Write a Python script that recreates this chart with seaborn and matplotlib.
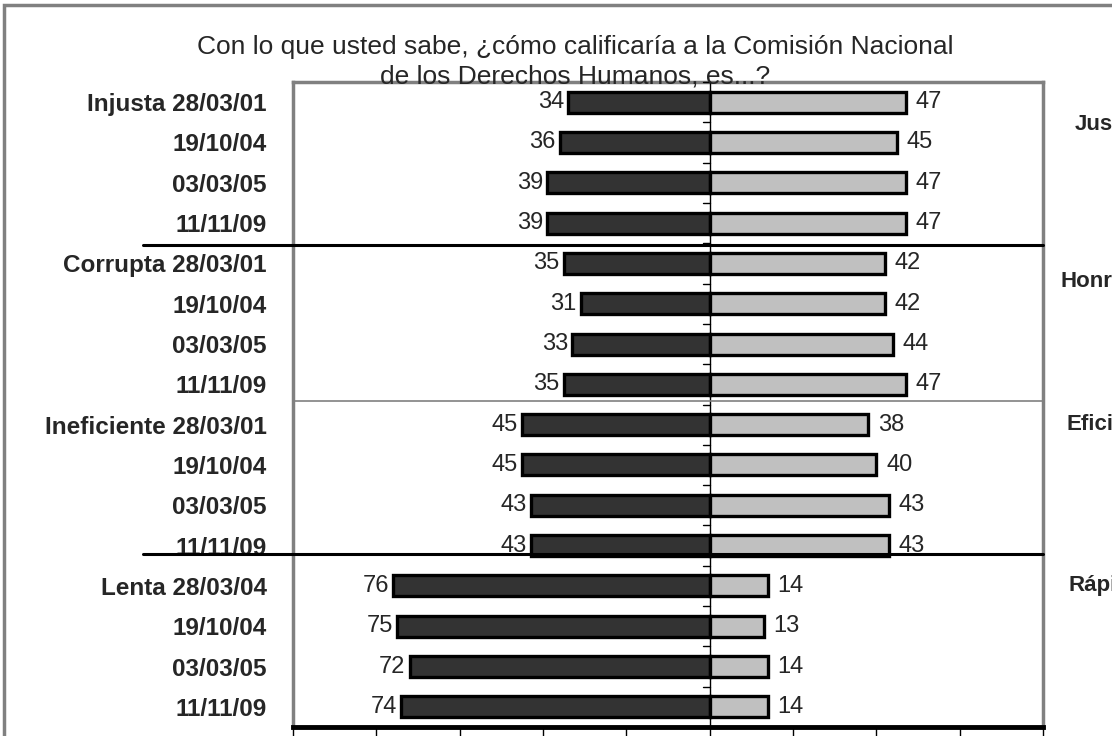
import numpy as np
import pandas as pd
import seaborn as sns
import matplotlib
matplotlib.use("Agg")
import matplotlib.pyplot as plt
from matplotlib.patches import Rectangle
from matplotlib.transforms import blended_transform_factory

# ---------------- data ----------------
row_labels = [
    "Injusta 28/03/01", "19/10/04", "03/03/05", "11/11/09",
    "Corrupta 28/03/01", "19/10/04", "03/03/05", "11/11/09",
    "Ineficiente 28/03/01", "19/10/04", "03/03/05", "11/11/09",
    "Lenta 28/03/04", "19/10/04", "03/03/05", "11/11/09",
]
negative_vals = [34, 36, 39, 39, 35, 31, 33, 35, 45, 45, 43, 43, 76, 75, 72, 74]
positive_vals = [47, 45, 47, 47, 42, 42, 44, 47, 38, 40, 43, 43, 14, 13, 14, 14]
right_labels = ["Justa", "Honrada", "Eficiente", "Rápida"]
title = "Con lo que usted sabe, ¿cómo calificaría a la Comisión Nacional\nde los Derechos Humanos, es...?"
x_ticks = [-100, -80, -60, -40, -20, 0, 20, 40, 60, 80]

row_ids = [f"r{i}" for i in range(len(row_labels))]
df = pd.DataFrame({"row": row_ids,
                   "neg": [-v for v in negative_vals],
                   "pos": positive_vals})

# ---------------- style ----------------
sns.set_style("white")
plt.rcParams["font.family"] = ["Liberation Sans", "DejaVu Sans"]

W, H = 1112, 736
fig = plt.figure(figsize=(W / 100, H / 100), dpi=100)
ax = fig.add_axes([293 / W, 1 - 727 / H, (1043 - 293) / W, (727 - 82) / H])

sns.barplot(data=df, y="row", x="neg", order=row_ids, orient="h",
            color="#333333", saturation=1, width=0.52,
            edgecolor="black", linewidth=2.4, ax=ax)
sns.barplot(data=df, y="row", x="pos", order=row_ids, orient="h",
            color="#C0C0C0", saturation=1, width=0.52,
            edgecolor="black", linewidth=2.4, ax=ax)

ax.set_xlim(-100, 80)
ax.set_ylim(15.5, -0.5)
ax.set_xlabel("")
ax.set_ylabel("")

# value labels
ax.bar_label(ax.containers[0], labels=[str(v) for v in negative_vals],
             padding=3, fontsize=17)
ax.bar_label(ax.containers[1], labels=[str(v) for v in positive_vals],
             padding=7, fontsize=17)

# y labels
ax.set_yticks(range(len(row_labels)))
ax.set_yticklabels(row_labels, fontsize=17.5, fontweight="bold")
ax.tick_params(axis="y", length=0, pad=19)

# x ticks (labels cut off in the reference)
ax.set_xticks(x_ticks)
ax.tick_params(axis="x", direction="out", length=9, width=1, color="black",
               labelbottom=False, bottom=True)

# spines
for s in ["top", "left", "right"]:
    ax.spines[s].set_color("#808080")
    ax.spines[s].set_linewidth(2.5)
ax.spines["bottom"].set_color("black")
ax.spines["bottom"].set_linewidth(3.5)

# center axis with small ticks at row boundaries
ax.axvline(0, color="black", lw=1, zorder=5)
for b in np.arange(-0.5, 16, 1.0):
    ax.plot([-1.6, 0], [b, b], color="black", lw=1, zorder=5, clip_on=False)

# group separators
tr = blended_transform_factory(ax.transAxes, ax.transData)
ax.plot([-0.2, 1.0], [3.55, 3.55], color="black", lw=2.2, transform=tr, clip_on=False, zorder=6)
ax.plot([0.0, 1.0], [7.42, 7.42], color="#808080", lw=1.2, transform=tr, clip_on=False, zorder=6)
ax.plot([-0.2, 1.0], [11.22, 11.22], color="black", lw=2.2, transform=tr, clip_on=False, zorder=6)

# right-side category labels (running past the figure edge, as in the reference)
rtr = blended_transform_factory(fig.transFigure, ax.transData)
for lab, xpx, yrow in zip(right_labels, [1075, 1060, 1067, 1068], [0.55, 4.45, 8.0, 12.0]):
    ax.annotate(lab, xy=(xpx / W, yrow), xycoords=rtr,
                ha="left", va="center", fontsize=16, fontweight="bold",
                annotation_clip=False)

# title
fig.text(575 / W, 1 - 62 / H, title, ha="center", va="center", fontsize=19,
         linespacing=1.3)

# figure frame (partially out of view)
fig.patches.append(Rectangle((4 / W, -0.2), 1.5, 1.2 - 5 / H, transform=fig.transFigure,
                             fill=False, edgecolor="#808080", lw=2.5))

fig.savefig("out.png", dpi=100)
